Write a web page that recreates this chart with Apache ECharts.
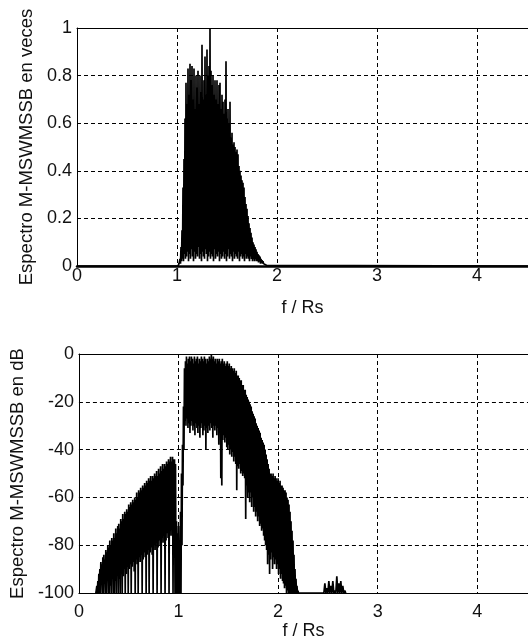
<!DOCTYPE html>
<html><head><meta charset="utf-8">
<script src="https://cdn.jsdelivr.net/npm/echarts/dist/echarts.min.js"></script>
<style>html,body{margin:0;padding:0;background:#fff}#c{width:528px;height:641px}</style>
</head><body><div id="c"></div>
<script>
// ---------- data ----------
const xTickValues = [0, 1, 2, 3, 4];
const yTicksLinear = [0, 0.2, 0.4, 0.6, 0.8, 1];
const yTicksDb = [-100, -80, -60, -40, -20, 0];
const xTitle = 'f / Rs';
const yTitleLinear = 'Espectro M-MSWMSSB en veces';
const yTitleDb = 'Espectro M-MSWMSSB en dB';

// Linear spectrum: local maxima every 0.01 f/Rs from 1.02, minima half a step later
const linStart = 1.02, linStep = 0.01;
const linPeaks = [
  0.01,0.03,0.08,0.15,0.33,0.45,0.62,0.77,
  0.68,0.83,0.72,0.85,0.78,0.84,0.70,0.83,0.66,0.80,
  0.75,0.82,0.68,0.80,0.73,0.93,0.70,0.78,0.88,0.72,
  0.91,0.80,0.84,1.00,0.82,0.76,0.80,0.72,0.78,0.70,
  0.78,0.68,0.76,0.77,0.66,0.72,0.69,0.64,0.70,0.86,
  0.62,0.66,0.60,0.69,0.54,0.56,0.51,0.52,0.50,0.48,
  0.49,0.47,0.42,0.40,0.38,0.36,0.35,0.33,0.29,0.26,
  0.24,0.21,0.18,0.16,0.14,0.12,0.10,0.09,0.08,0.07,
  0.06,0.05,0.045,0.04,0.03,0.025,0.02,0.015,0.01,0.007,0.004
];
const linDips = [
  0.005,0.01,0.02,0.03,0.02,0.05,0.03,0.04,
  0.06,0.02,0.05,0.03,0.07,0.04,0.02,0.06,0.03,0.05,
  0.04,0.08,0.03,0.05,0.02,0.06,0.04,0.03,0.07,0.05,
  0.02,0.04,0.06,0.03,0.05,0.04,0.02,0.07,0.03,0.05,
  0.04,0.06,0.02,0.05,0.03,0.04,0.06,0.03,0.05,0.02,
  0.04,0.07,0.03,0.05,0.04,0.02,0.06,0.03,0.05,0.04,
  0.03,0.06,0.02,0.04,0.05,0.03,0.04,0.02,0.05,0.03,
  0.04,0.03,0.02,0.04,0.03,0.02,0.03,0.02,0.03,0.02,
  0.02,0.015,0.02,0.01,0.015,0.01,0.01,0.005,0.005,0.003,0.002
];

// dB spectrum: local maxima every 0.01 f/Rs from 0.17, minima half a step later
const dbStart = 0.17, dbStep = 0.01;
const dbPeaks = [
  -100,-97,-95,
  -92,-90,-87,-88,-85,-84,-86,-82,-83,-80,
  -81,-78,-80,-77,-78,-75,-77,-73,-75,-72,
  -71,-73,-69,-70,-67,-69,-66,-67,-65,-66,
  -63,-64,-62,-63,-61,-62,-60,-61,-58,-60,
  -57,-58,-56,-57,-55,-56,-54,-55,-53,-54,
  -52,-53,-51,-53,-51,-52,-50,-51,-49,-51,
  -48,-50,-47,-49,-46,-48,-46,-47,-45,-46,
  -44,-45,-43,-45,-43,-44,-44,-46,-70,-75,
  -72,-78,-66,-50,-38,-22,-6,-3,-1,-4,
  -2,-1,-3,-1,-2,-4,-1,-3,-2,-1,
  -4,-2,-3,-1,-2,-3,-1,-2,-4,-2,
  -3,-1,-2,0,-2,-1,-3,-2,-4,-2,
  -3,-2,-4,-3,-2,-4,-3,-5,-4,-3,
  -5,-4,-6,-5,-6,-7,-6,-8,-7,-9,
  -9,-10,-11,-11,-13,-13,-15,-15,-17,-18,
  -19,-20,-21,-22,-24,-25,-26,-27,-29,-30,
  -31,-32,-33,-35,-36,-37,-38,-40,-42,-44,
  -46,-48,-50,-50,-51,-50,-52,-51,-52,-53,
  -52,-54,-53,-55,-55,-56,-57,-57,-58,-60,
  -61,-63,-66,-70,-74,-78,-84,-90,-94,-97,
  -99,-100
];
const dbDips = [
  -100,-100,-100,
  -100,-100,-96,-100,-100,-95,-100,-100,-94,-100,
  -100,-97,-100,-93,-100,-100,-95,-100,-92,-100,
  -94,-100,-91,-100,-93,-90,-100,-92,-89,-100,
  -90,-88,-100,-89,-87,-91,-100,-86,-88,-100,
  -85,-87,-84,-100,-86,-83,-85,-100,-84,-82,
  -100,-83,-81,-84,-100,-80,-82,-79,-100,-81,
  -78,-80,-100,-77,-79,-76,-100,-78,-75,-77,
  -100,-74,-76,-73,-100,-75,-100,-100,-100,-100,
  -100,-100,-100,-80,-55,-40,-28,-30,-27,-31,
  -29,-33,-30,-28,-32,-30,-34,-29,-31,-33,
  -30,-35,-31,-29,-34,-32,-30,-40,-31,-33,
  -30,-32,-29,-31,-35,-30,-32,-30,-34,-31,
  -38,-33,-52,-55,-36,-34,-37,-35,-39,-40,
  -38,-42,-40,-43,-41,-45,-43,-46,-57,-47,
  -48,-46,-50,-49,-51,-50,-52,-69,-55,-60,
  -58,-62,-58,-64,-60,-66,-64,-68,-66,-70,
  -68,-72,-71,-74,-73,-76,-78,-80,-82,-88,
  -84,-92,-86,-83,-90,-85,-88,-86,-90,-88,
  -92,-90,-94,-92,-95,-96,-98,-97,-100,-99,
  -100,-100,-100,-100,-100,-100,-100,-100,-100,-100,
  -100,-100
];
// small spur cluster near 2.5 f/Rs (dB), every 0.01 from 2.46
const spurStart = 2.46, spurStep = 0.01;
const spurValues = [-100,-96,-100,-98,-100,-95,-100,-97,-100,-95,-100,-99,-100,-93,-100,-96,-100,-95,-100,-97,-100,-99,-100];

// ---------- build series data ----------
function interleave(start, step, peaks, dips) {
  const out = [];
  for (let i = 0; i < peaks.length; i++) {
    const f = start + i * step;
    out.push([+f.toFixed(4), peaks[i]]);
    if (i < dips.length) out.push([+(f + step / 2).toFixed(4), dips[i]]);
  }
  return out;
}
const linData = [[0, 0], [linStart - 0.01, 0]]
  .concat(interleave(linStart, linStep, linPeaks, linDips))
  .concat([[4.6, 0]]);
const dbData = interleave(dbStart, dbStep, dbPeaks, dbDips)
  .concat(spurValues.map((v, i) => [+(spurStart + i * spurStep).toFixed(4), v]));

// ---------- chart ----------
const font = "'Liberation Sans', Arial, Helvetica, sans-serif";
const txt = { color: '#111', fontFamily: font, fontSize: 18 };
const nameTxt = { color: '#111', fontFamily: font, fontSize: 18.5 };
const dash = { type: [4, 3], color: '#000', width: 1 };
const xFmt = v => (xTickValues.indexOf(Math.round(v * 1000) / 1000) >= 0 ? String(v) : '');

function xAxisBottom(grid, margin, gap, lw) {
  return {
    gridIndex: grid, type: 'value', min: 0, max: 4.51, interval: 1,
    axisLine: { onZero: false, lineStyle: { color: '#000', width: lw } },
    axisTick: { show: false },
    axisLabel: Object.assign({}, txt, { margin: margin, formatter: xFmt, showMaxLabel: false }),
    splitLine: { show: true, lineStyle: dash },
    name: xTitle, nameLocation: 'middle', nameGap: gap, nameTextStyle: txt
  };
}
function xAxisTop(grid) {
  return {
    gridIndex: grid, type: 'value', position: 'top', min: 0, max: 4.51,
    axisLine: { show: true, onZero: false, lineStyle: { color: '#000', width: 1 } },
    axisTick: { show: false }, axisLabel: { show: false }, splitLine: { show: false }
  };
}
function yAxis(grid, ticks, title) {
  return {
    gridIndex: grid, type: 'value', min: ticks[0], max: ticks[ticks.length - 1],
    interval: ticks[1] - ticks[0],
    axisLine: { show: true, onZero: false, lineStyle: { color: '#000', width: 1 } },
    axisTick: { show: false },
    axisLabel: Object.assign({}, txt, { margin: 5 }),
    splitLine: { show: true, lineStyle: dash },
    name: title, nameLocation: 'middle', nameGap: 37, nameTextStyle: nameTxt
  };
}

const chart = echarts.init(document.getElementById('c'), null, { renderer: 'canvas' });
chart.setOption({
  animation: false,
  backgroundColor: '#fff',
  grid: [
    { left: 77, top: 28, width: 451, height: 238 },
    { left: 77, top: 354, width: 451, height: 239 }
  ],
  xAxis: [xAxisBottom(0, 1, 33, 2.5), xAxisTop(0), xAxisBottom(1, 10, 28, 1), xAxisTop(1)],
  yAxis: [yAxis(0, yTicksLinear, yTitleLinear), yAxis(1, yTicksDb, yTitleDb)],
  series: [
    { type: 'line', xAxisIndex: 0, yAxisIndex: 0, data: linData, showSymbol: false,
      lineStyle: { color: '#000', width: 1.7 }, clip: true, silent: true },
    { type: 'line', xAxisIndex: 2, yAxisIndex: 1, data: dbData, showSymbol: false,
      lineStyle: { color: '#000', width: 1.7 }, clip: true, silent: true }
  ]
});
</script></body></html>
